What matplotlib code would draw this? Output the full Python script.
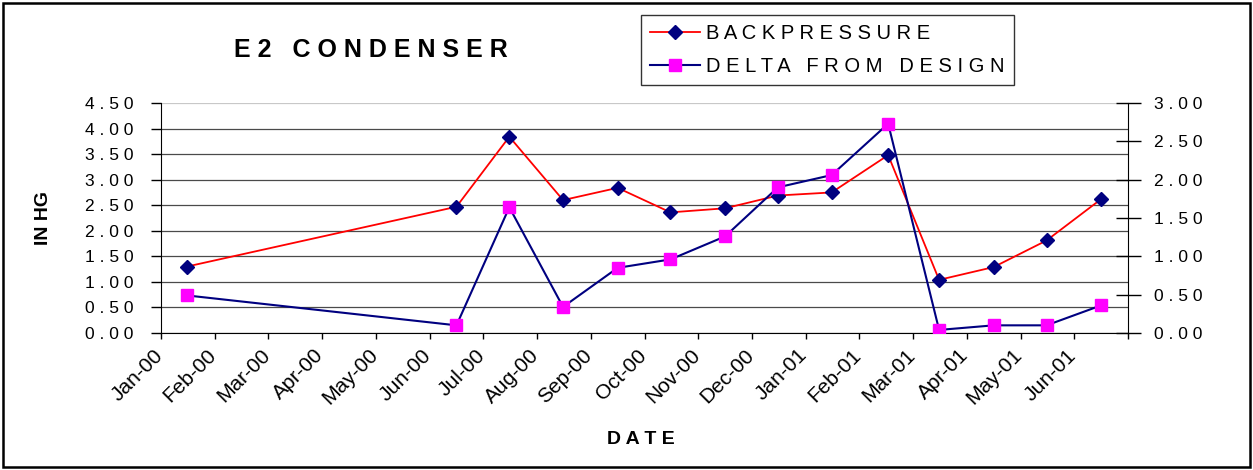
import calendar
from datetime import date

import matplotlib
matplotlib.use("Agg")
import matplotlib.pyplot as plt
import matplotlib.patches as mpatches
import matplotlib.transforms as mtransforms
from matplotlib.ticker import FixedLocator, FuncFormatter, MultipleLocator

plt.rcParams["font.family"] = ["Liberation Sans", "DejaVu Sans"]

# ---------------------------------------------------------------------------
# data
# ---------------------------------------------------------------------------
MONTH_LABELS = [
    "Jan-00", "Feb-00", "Mar-00", "Apr-00", "May-00", "Jun-00",
    "Jul-00", "Aug-00", "Sep-00", "Oct-00", "Nov-00", "Dec-00",
    "Jan-01", "Feb-01", "Mar-01", "Apr-01", "May-01", "Jun-01",
]

READING_DATES = [
    "2000-01-16", "2000-06-16", "2000-07-16", "2000-08-16", "2000-09-16",
    "2000-10-16", "2000-11-16", "2000-12-16", "2001-01-16", "2001-02-16",
    "2001-03-16", "2001-04-16", "2001-05-16", "2001-06-16",
]

BACKPRESSURE = [1.30, 2.47, 3.84, 2.60, 2.84, 2.36, 2.44,
                2.69, 2.75, 3.48, 1.04, 1.29, 1.81, 2.62]

DELTA_FROM_DESIGN = [0.49, 0.10, 1.64, 0.34, 0.85, 0.96, 1.26,
                     1.90, 2.06, 2.73, 0.04, 0.10, 0.10, 0.36]


def month_position(iso):
    """Months elapsed since 1 Jan 2000, with the day as a fraction."""
    d = date.fromisoformat(iso)
    days = calendar.monthrange(d.year, d.month)[1]
    return (d.year - 2000) * 12 + (d.month - 1) + (d.day - 1) / days


def spaced(text):
    """Excel-style wide character spacing."""
    return " ".join(text)


x = [month_position(s) for s in READING_DATES]

W, H = 1253, 470
fig = plt.figure(figsize=(W / 100, H / 100), dpi=100)
fig.patch.set_facecolor("white")

# plot area in pixels: x 161..1128, y 103..333
ax = fig.add_axes([161 / W, 1 - 333 / H, (1128 - 161) / W, (333 - 103) / H])
ax2 = ax.twinx()

# left axis: backpressure
ax.set_xlim(0, len(MONTH_LABELS))
ax.set_ylim(0, 4.5)
ax.yaxis.set_major_locator(MultipleLocator(0.5))
ax.yaxis.set_major_formatter(FuncFormatter(lambda v, _: spaced(f"{v:.2f}")))
ax.tick_params(axis="y", direction="out", length=7, width=1, pad=13,
               labelsize=12.5, colors="black")

ax.xaxis.set_major_locator(FixedLocator(range(len(MONTH_LABELS) + 1)))
ax.set_xticklabels(MONTH_LABELS + [""])
ax.tick_params(axis="x", direction="out", length=4, width=1, pad=5)
shift = mtransforms.ScaledTranslation(-8 / 100, 0, fig.dpi_scale_trans)
for lbl in ax.get_xticklabels():
    lbl.set_fontsize(15)
    lbl.set_rotation(45)
    lbl.set_ha("right")
    lbl.set_va("top")
    lbl.set_rotation_mode("anchor")
    lbl.set_transform(lbl.get_transform() + shift)

ax.yaxis.grid(True, color="#4a4a4a", linewidth=0.9)
ax.set_axisbelow(True)
for val, gl in zip(ax.get_yticks(), ax.yaxis.get_gridlines()):
    if abs(val - 4.5) < 1e-9:
        gl.set_color("#c8c8c8")

for a in (ax, ax2):
    a.spines["top"].set_visible(False)
ax.spines["right"].set_visible(False)
ax.spines["left"].set_color("black")
ax.spines["bottom"].set_color("black")
ax2.spines["left"].set_visible(False)
ax2.spines["bottom"].set_visible(False)
ax2.spines["right"].set_color("black")

# right axis: delta from design
ax2.set_ylim(0, 3.0)
ax2.yaxis.set_major_locator(MultipleLocator(0.5))
ax2.yaxis.set_major_formatter(FuncFormatter(lambda v, _: spaced(f"{v:.2f}")))
ax2.tick_params(axis="y", direction="inout", length=18, width=1, pad=10,
                labelsize=12.5)

line_bp, = ax.plot(x, BACKPRESSURE, color="#ff0000", linewidth=1.3,
                   marker="D", markersize=7.5, markerfacecolor="#000080",
                   markeredgecolor="#000080", label=spaced("BACKPRESSURE"),
                   zorder=3)
line_dd, = ax2.plot(x, DELTA_FROM_DESIGN, color="#000080", linewidth=1.5,
                    marker="s", markersize=8, markerfacecolor="#ff00ff",
                    markeredgecolor="#ff00ff",
                    label=spaced("DELTA FROM DESIGN"), zorder=3)

fig.text(371 / W, 1 - 50 / H, spaced("E2 CONDENSER"), ha="center",
         va="center", fontsize=18, fontweight="bold")
fig.text(43 / W, 1 - 218 / H, "IN HG", ha="center", va="center",
         rotation=90, fontsize=14, fontweight="bold")
fig.text(641 / W, 1 - 440 / H, spaced("DATE"), ha="center", va="center",
         fontsize=14, fontweight="bold")

leg = fig.legend(handles=[line_bp, line_dd], loc="upper left",
                 bbox_to_anchor=(641 / W, 1 - 14.7 / H), fontsize=14.5,
                 frameon=True, fancybox=False, handlelength=2.5,
                 handletextpad=0.3, borderpad=0.45, labelspacing=0.72,
                 borderaxespad=0)
leg.get_frame().set_edgecolor("black")
leg.get_frame().set_linewidth(1.0)

# outer chart-area border
fig.patches.append(mpatches.Rectangle(
    (3 / W, 3 / H), (W - 6) / W, (H - 6) / H, transform=fig.transFigure,
    fill=False, edgecolor="black", linewidth=1.8))

fig.savefig("out.png", dpi=100)
